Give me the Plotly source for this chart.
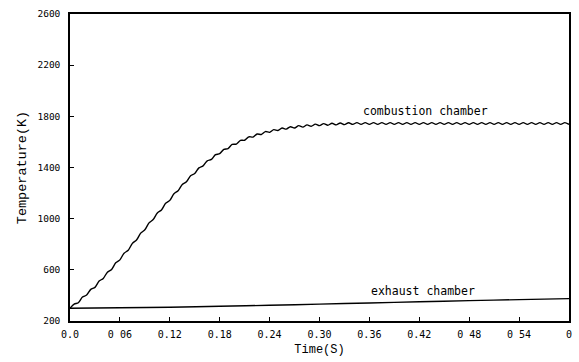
import plotly.graph_objects as go

# ---- data ----
time_comb = [0.000, 0.005, 0.010, 0.015, 0.020, 0.025, 0.030, 0.035, 0.040, 0.045,
             0.050, 0.055, 0.060, 0.065, 0.070, 0.075, 0.080, 0.085, 0.090, 0.095,
             0.100, 0.105, 0.110, 0.115, 0.120, 0.125, 0.130, 0.135, 0.140, 0.145,
             0.150, 0.155, 0.160, 0.165, 0.170, 0.175, 0.180, 0.185, 0.190, 0.195,
             0.200, 0.205, 0.210, 0.215, 0.220, 0.225, 0.230, 0.235, 0.240, 0.245,
             0.250, 0.255, 0.260, 0.265, 0.270, 0.275, 0.280, 0.285, 0.290, 0.295,
             0.300, 0.305, 0.310, 0.315, 0.320, 0.325, 0.330, 0.335, 0.340, 0.345,
             0.350, 0.355, 0.360, 0.365, 0.370, 0.375, 0.380, 0.385, 0.390, 0.395,
             0.400, 0.405, 0.410, 0.415, 0.420, 0.425, 0.430, 0.435, 0.440, 0.445,
             0.450, 0.455, 0.460, 0.465, 0.470, 0.475, 0.480, 0.485, 0.490, 0.495,
             0.500, 0.505, 0.510, 0.515, 0.520, 0.525, 0.530, 0.535, 0.540, 0.545,
             0.550, 0.555, 0.560, 0.565, 0.570, 0.575, 0.580, 0.585, 0.590, 0.595,
             0.600]
temp_comb = [300, 332, 343, 387, 403, 447, 463, 512, 533, 582,
             603, 655, 678, 730, 753, 807, 833, 887, 913, 967,
             993, 1045, 1068, 1120, 1143, 1195, 1218, 1267, 1288, 1335,
             1353, 1397, 1413, 1452, 1463, 1500, 1508, 1542, 1548, 1580,
             1583, 1612, 1613, 1640, 1638, 1662, 1658, 1681, 1675, 1696,
             1689, 1709, 1700, 1719, 1709, 1727, 1716, 1733, 1722, 1739,
             1727, 1743, 1730, 1746, 1733, 1748, 1735, 1750, 1737, 1751,
             1737, 1751, 1737, 1751, 1737, 1751, 1737, 1751, 1737, 1751,
             1737, 1751, 1737, 1751, 1737, 1751, 1737, 1751, 1737, 1751,
             1737, 1751, 1737, 1751, 1737, 1751, 1737, 1751, 1737, 1751,
             1737, 1751, 1737, 1751, 1737, 1751, 1737, 1751, 1737, 1751,
             1737, 1751, 1737, 1751, 1737, 1751, 1737, 1751, 1737, 1751,
             1737]

time_exh = [0.00, 0.06, 0.12, 0.18, 0.24, 0.30, 0.36, 0.42, 0.48, 0.54, 0.60]
temp_exh = [300, 303, 308, 315, 323, 332, 341, 350, 359, 367, 375]

x_tickvals = [0.00, 0.06, 0.12, 0.18, 0.24, 0.30, 0.36, 0.42, 0.48, 0.54, 0.60]
x_ticktext = ["0.0", "0 06", "0.12", "0.18", "0.24", "0.30", "0.36", "0.42", "0 48", "0 54", "0"]
y_tickvals = [200, 600, 1000, 1400, 1800, 2200, 2600]

labels = ["combustion chamber", "exhaust chamber"]
label_pos = [(0.428, 1842), (0.424, 435)]

MONO = "DejaVu Sans Mono"

fig = go.Figure()
fig.add_trace(go.Scatter(x=time_comb, y=temp_comb, mode="lines",
                         line=dict(color="black", width=1.4, shape="spline", smoothing=0.8),
                         hoverinfo="skip"))
fig.add_trace(go.Scatter(x=time_exh, y=temp_exh, mode="lines",
                         line=dict(color="black", width=1.4, shape="spline"),
                         hoverinfo="skip"))

for txt, (xx, yy) in zip(labels, label_pos):
    fig.add_annotation(x=xx, y=yy, text=txt, showarrow=False,
                       font=dict(family=MONO, size=11.5, color="black"))

fig.update_layout(
    width=579, height=362,
    margin=dict(l=70, r=7, t=14, b=41),
    paper_bgcolor="white", plot_bgcolor="white",
    showlegend=False,
    font=dict(family=MONO, color="black"),
)
fig.update_xaxes(range=[0, 0.6], tickvals=x_tickvals, ticktext=x_ticktext,
                 ticks="inside", ticklen=4, tickcolor="black", tickwidth=1,
                 showline=True, linecolor="black", linewidth=1.5, mirror=True,
                 showgrid=False, zeroline=False,
                 tickfont=dict(family=MONO, size=10),
                 ticklabelstandoff=3,
                 title=dict(text="Time(S)", font=dict(family="Liberation Mono", size=12), standoff=6))
fig.update_yaxes(range=[200, 2600], tickvals=y_tickvals,
                 ticks="inside", ticklen=4, tickcolor="black", tickwidth=1,
                 showline=True, linecolor="black", linewidth=1.5, mirror=True,
                 showgrid=False, zeroline=False,
                 tickfont=dict(family=MONO, size=9.5),
                 ticklabelstandoff=6,
                 title=dict(text="Temperature(K)", font=dict(family="Liberation Mono", size=13.5), standoff=8))

fig.write_html("out.html")
